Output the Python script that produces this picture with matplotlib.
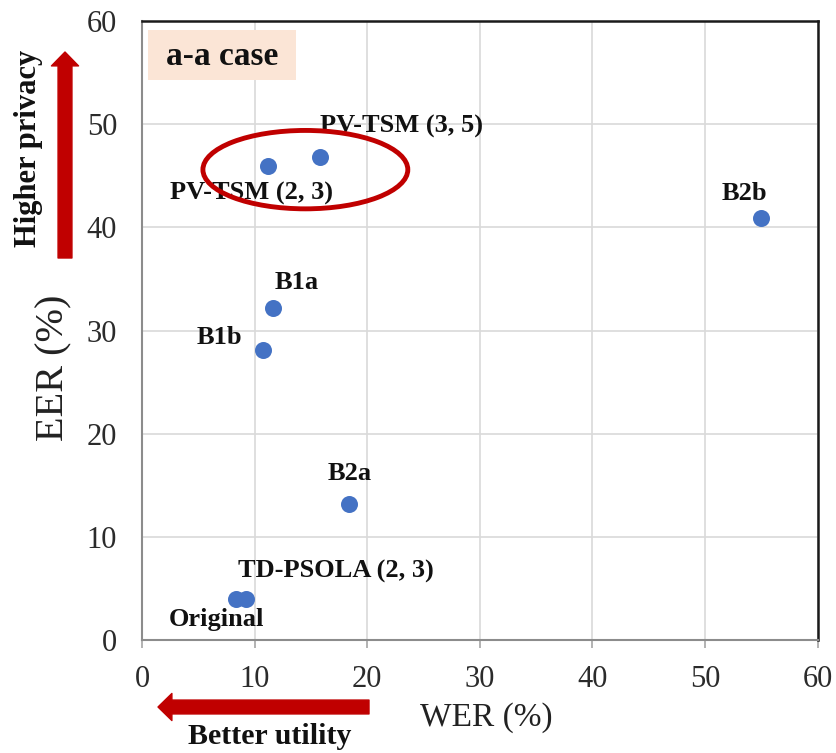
import matplotlib
matplotlib.use("Agg")
import matplotlib.pyplot as plt
from matplotlib.patches import Ellipse, Rectangle, FancyArrowPatch, ArrowStyle

# Data
methods = ["Original", "TD-PSOLA (2, 3)", "PV-TSM (2, 3)", "PV-TSM (3, 5)",
           "B1a", "B1b", "B2a", "B2b"]
wer = [8.3, 9.2, 11.2, 15.8, 11.6, 10.7, 18.4, 55.0]
eer = [4.0, 4.0, 46.0, 46.8, 32.2, 28.1, 13.2, 40.9]

# label offsets in points (dx, dy)
label_offsets = [(-14, -15), (65, 20), (-12, -20), (59, 22),
                 (17, 18), (-31, 9), (0, 22), (-12, 18)]

DOT_COLOR = "#4472C4"
RED = "#C00000"
SERIF = ["Liberation Serif", "DejaVu Serif"]

plt.rcParams["font.family"] = SERIF

fig = plt.figure(figsize=(8.36, 7.53), dpi=100)
ax = fig.add_axes([0.170, 0.150, 0.808, 0.822])

ax.scatter(wer, eer, s=150, color=DOT_COLOR, zorder=3, linewidths=0)

for name, x, y, off in zip(methods, wer, eer, label_offsets):
    ax.annotate(name, (x, y), xytext=off, textcoords="offset points",
                ha="center", va="center", fontsize=19, fontweight="bold",
                color="#111111", zorder=4)

ax.set_xlim(0, 60)
ax.set_ylim(0, 60)
ax.set_xticks(range(0, 61, 10))
ax.set_yticks(range(0, 61, 10))
ax.grid(True, color="#D9D9D9", linewidth=1.2)
ax.set_axisbelow(True)

ax.tick_params(axis="x", length=6, width=1.2, color="#A6A6A6", pad=12,
               labelsize=22, labelcolor="#2B2B2B")
ax.tick_params(axis="y", length=0, pad=18, labelsize=22, labelcolor="#2B2B2B")

for side in ["left", "bottom"]:
    ax.spines[side].set_color("#8C8C8C")
    ax.spines[side].set_linewidth(1.5)
for side in ["top", "right"]:
    ax.spines[side].set_color("#1A1A1A")
    ax.spines[side].set_linewidth(1.8)

# highlight ellipse around PV-TSM points
ax.add_patch(Ellipse((14.5, 45.6), 18.2, 7.6, fill=False, edgecolor=RED,
                     linewidth=3.5, zorder=5))

# case tag
ax.add_patch(Rectangle((0.009, 0.905), 0.219, 0.080, transform=ax.transAxes,
                       facecolor="#FBE5D6", edgecolor="none", zorder=2))
ax.text(0.118, 0.943, "a-a case", transform=ax.transAxes, ha="center",
        va="center", fontsize=24, fontweight="bold", color="#111111", zorder=3)

# axis titles
fig.text(0.582, 0.047, "WER (%)", ha="center", va="center", fontsize=24,
         color="#222222")
fig.text(0.064, 0.511, "EER (%)", ha="center", va="center", fontsize=29,
         rotation=90, color="#222222")

# direction arrows (inches from bottom-left)
arrow_style = ArrowStyle.Simple(head_length=10, head_width=19.5, tail_width=10)
fig.add_artist(FancyArrowPatch((0.65, 4.95), (0.65, 7.01), arrowstyle=arrow_style,
                               mutation_scale=1, color=RED, shrinkA=0, shrinkB=0,
                               transform=fig.dpi_scale_trans))
fig.add_artist(FancyArrowPatch((3.69, 0.46), (1.58, 0.46), arrowstyle=arrow_style,
                               mutation_scale=1, color=RED, shrinkA=0, shrinkB=0,
                               transform=fig.dpi_scale_trans))

fig.text(0.034, 0.803, "Higher privacy", ha="center", va="center", fontsize=22,
         fontweight="bold", rotation=90, color="#111111")
fig.text(0.323, 0.004, "Better utility", ha="center", va="bottom", fontsize=21.5,
         fontweight="bold", color="#111111")

fig.savefig("out.png", dpi=100)
